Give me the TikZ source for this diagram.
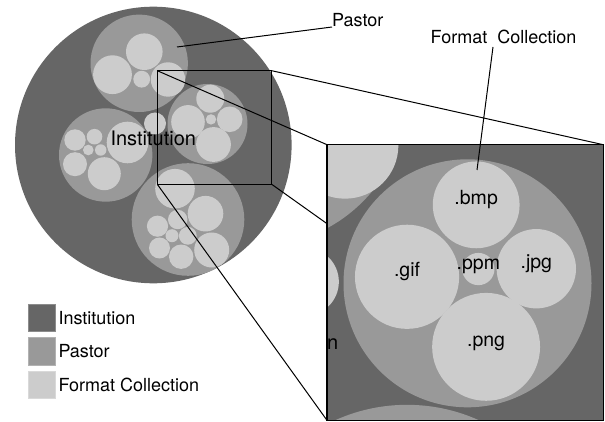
\documentclass[tikz,border=0pt]{standalone}
\usepackage{fontspec}
\setmainfont{TeX Gyre Heros}
\definecolor{instc}{HTML}{666666}
\definecolor{pastc}{HTML}{999999}
\definecolor{fmtc}{HTML}{CCCCCC}
\tikzset{
  inst/.style={fill=instc},
  past/.style={fill=pastc},
  fmt/.style={fill=fmtc},
  lbl/.style={inner sep=0pt, font=\fontsize{18}{21}\selectfont},
  circlbl/.style={inner sep=0pt, anchor=base, font=\fontsize{19.5}{23}\selectfont},
  frame/.style={draw=black, line width=1.5pt, inner sep=0pt, outer sep=0pt},
  link/.style={draw=black, line width=1pt},
  legbox/.style={minimum size=27.3pt, inner sep=0pt, anchor=north west},
}
\newcommand\drawscene[2]{%
  % Institution
  \fill[inst] (153.3,145) circle[radius=138.3];
  % top pastor
  \fill[past] (139.2,63.3) circle[radius=48.7];
  \fill[fmt] (144.3,51.7) circle[radius=18.3];
  \fill[fmt] (112.5,74.7) circle[radius=19.4];
  \fill[fmt] (141.7,79.2) circle[radius=8.4];
  \fill[fmt] (168,79.5) circle[radius=17.2];
  % right pastor
  \fill[past] (207.5,124) circle[radius=40];
  \fill[fmt] (210.3,98.7) circle[radius=14.0];
  \fill[fmt] (188.0,121.9) circle[radius=16.8];
  \fill[fmt] (211.0,119.4) circle[radius=5.2];
  \fill[fmt] (229.7,119.3) circle[radius=12.8];
  \fill[fmt] (213.5,144.5) circle[radius=17.4];
  % left pastor
  \fill[past] (105.7,155) circle[radius=46.7];
  \fill[fmt] (127.5,142.5) circle[radius=20.8];
  \fill[fmt] (75,140) circle[radius=10.7];
  \fill[fmt] (94.5,136.7) circle[radius=7.8];
  \fill[fmt] (88.3,150) circle[radius=5.3];
  \fill[fmt] (100.7,150) circle[radius=5.7];
  \fill[fmt] (75,164.2) circle[radius=12];
  \fill[fmt] (104.3,173.7) circle[radius=16.5];
  % bottom pastor
  \fill[past] (188,219.5) circle[radius=56.3];
  \fill[fmt] (175,188.7) circle[radius=19.8];
  \fill[fmt] (205.5,213.7) circle[radius=17.8];
  \fill[fmt] (211.7,250) circle[radius=17.5];
  \fill[fmt] (157.5,226.2) circle[radius=10.6];
  \fill[fmt] (177.7,219.5) circle[radius=9.7];
  \fill[fmt] (172,235.7) circle[radius=6.5];
  \fill[fmt] (187.8,235.8) circle[radius=8.9];
  \fill[fmt] (159.5,248) circle[radius=10.5];
  \fill[fmt] (181.2,256.7) circle[radius=12.2];
  % standalone collection
  \fill[fmt] (155,123.5) circle[radius=11];
  \node[circlbl, font=\fontsize{20}{24}\selectfont] (instlbl#1) at (153.3+#2,145.5) {Institution};
}
\begin{document}
\begin{tikzpicture}[x=1pt, y=-1pt]
\useasboundingbox (0,0) rectangle (605,422);
% overview
\drawscene{a}{0}
% frames as nodes
\node[frame, minimum width=114.4pt, minimum height=113.6pt] (smallbox) at (214.5,127.5) {};
\node[minimum width=276.3pt, minimum height=275.6pt, inner sep=0pt, outer sep=0pt] (bigbox) at (465.15,282.5) {};
% connectors
\draw[link] (smallbox.north west) -- (bigbox.north west);
\draw[link] (smallbox.north east) -- (bigbox.north east);
\draw[link] (smallbox.south west) -- (bigbox.south west);
\draw[link] (smallbox.south east) -- (bigbox.south east);
% zoomed view
\begin{scope}
  \clip (bigbox.south west) rectangle (bigbox.north east);
  \fill[inst] (bigbox.south west) rectangle (bigbox.north east);
  \begin{scope}[shift={(467.5,283.3)}, scale=3.1, shift={(-207.5,-124)}]
    \drawscene{b}{-1.3}
    \node[circlbl] (bmp) at (210.3,98.7) {.bmp};
    \node[circlbl] (gif) at (188.0,121.9) {.gif};
    \node[circlbl] (ppm) at (211.0,119.4) {.ppm};
    \node[circlbl] (jpg) at (229.7,119.3) {.jpg};
    \node[circlbl] (png) at (213.5,144.5) {.png};
  \end{scope}
\end{scope}
\node[frame, minimum width=276.3pt, minimum height=275.6pt] (bigframe) at (465.15,282.5) {};
% annotations
\coordinate (pastorpt) at (177,47);
\node[lbl, anchor=base west] (pastorlbl) at (332,27) {Pastor};
\draw[link] (pastorpt) -- (pastorlbl.base west);
\node[lbl, anchor=base] (fclbl) at (503.5,43.3) {Format\ \ Collection};
\coordinate (fctop) at (493,47);
\coordinate (fcpt) at (477,170);
\draw[link] (fctop) -- (fcpt);
% legend
\node[legbox, fill=instc, draw=instc!75!white, line width=0.8pt] (leginst) at (27.7,304) {};
\node[legbox, fill=pastc, draw=pastc!75!white, line width=0.8pt] (legpast) at (27.7,337.3) {};
\node[legbox, fill=fmtc, draw=fmtc!75!white, line width=0.8pt] (legfmt) at (27.7,370.7) {};
\node[lbl, anchor=base west] (leginstlbl) at (58.3,324.3) {Institution};
\node[lbl, anchor=base west] (legpastlbl) at (58.3,357.7) {Pastor};
\node[lbl, anchor=base west] (legfmtlbl) at (58.3,391) {Format Collection};
\end{tikzpicture}
\end{document}
